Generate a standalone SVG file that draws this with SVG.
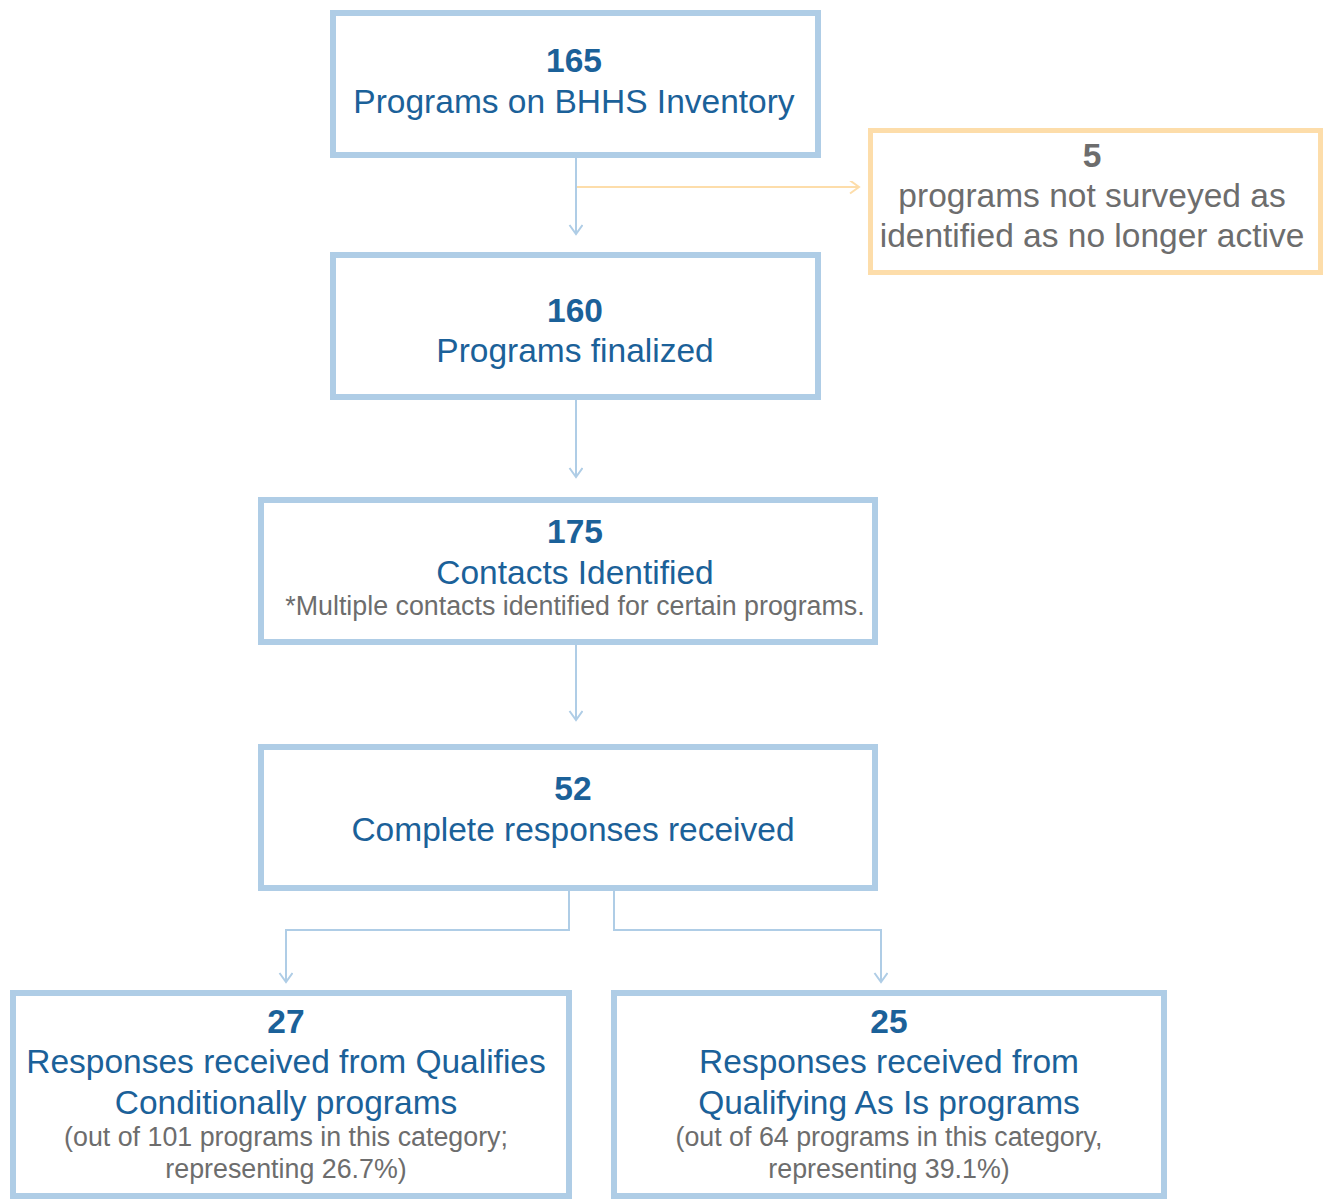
<svg xmlns="http://www.w3.org/2000/svg" width="1323" height="1201" viewBox="0 0 1323 1201">
<style>
.box{fill:#fff;stroke:#AFCDE6;stroke-width:6}
.obox{fill:#fff;stroke:#FDDDAA;stroke-width:5}
.t{font-family:"Liberation Sans",Arial,sans-serif;text-anchor:middle}
.num{font-weight:bold;font-size:33.5px;fill:#1B6199}
.lbl{font-size:33.5px;fill:#1B6199}
.gnum{font-weight:bold;font-size:33.5px;fill:#6D6D6D}
.glbl{font-size:33.5px;fill:#6D6D6D}
.sub{font-size:26.8px;fill:#6D6D6D}
.c{fill:none;stroke:#AFCDE6;stroke-width:2}
.co{fill:none;stroke:#FDDDAA;stroke-width:2}
</style>
<defs>
<marker id="ab" markerUnits="userSpaceOnUse" markerWidth="20" markerHeight="20" refX="10" refY="6.5" orient="auto">
<path d="M1,0 L10,6.5 L1,13" fill="none" stroke="#AFCDE6" stroke-width="2"/>
</marker>
<marker id="ao" markerUnits="userSpaceOnUse" markerWidth="20" markerHeight="20" refX="10" refY="6.5" orient="auto">
<path d="M1,0 L10,6.5 L1,13" fill="none" stroke="#FDDDAA" stroke-width="2"/>
</marker>
</defs>
<g id="connectors">
<path class="c" d="M576,158 V234" marker-end="url(#ab)"/>
<path class="co" d="M577,187 H859" marker-end="url(#ao)"/>
<path class="c" d="M576,400 V477" marker-end="url(#ab)"/>
<path class="c" d="M576,645 V720" marker-end="url(#ab)"/>
<path class="c" d="M569,891 V930 H286 V982" marker-end="url(#ab)"/>
<path class="c" d="M614,891 V930 H881 V982" marker-end="url(#ab)"/>
</g>
<g id="node-inventory">
<rect class="box" x="333" y="13" width="485" height="142"/>
<text class="t num" x="574" y="72">165</text>
<text class="t lbl" x="574" y="113">Programs on BHHS Inventory</text>
</g>
<g id="node-not-surveyed">
<rect class="obox" x="870.5" y="130.5" width="450" height="142"/>
<text class="t gnum" x="1092" y="167">5</text>
<text class="t glbl" x="1092" y="207">programs not surveyed as</text>
<text class="t glbl" x="1092" y="247">identified as no longer active</text>
</g>
<g id="node-finalized">
<rect class="box" x="333" y="255" width="485" height="142"/>
<text class="t num" x="575" y="322">160</text>
<text class="t lbl" x="575" y="362">Programs finalized</text>
</g>
<g id="node-contacts">
<rect class="box" x="261" y="500" width="614" height="142"/>
<text class="t num" x="575" y="543">175</text>
<text class="t lbl" x="575" y="584">Contacts Identified</text>
<text class="t sub" x="575" y="615">*Multiple contacts identified for certain programs.</text>
</g>
<g id="node-complete">
<rect class="box" x="261" y="747" width="614" height="141"/>
<text class="t num" x="573" y="800">52</text>
<text class="t lbl" x="573" y="841">Complete responses received</text>
</g>
<g id="node-conditional">
<rect class="box" x="13" y="993" width="556" height="203"/>
<text class="t num" x="286" y="1033">27</text>
<text class="t lbl" x="286" y="1073">Responses received from Qualifies</text>
<text class="t lbl" x="286" y="1114">Conditionally programs</text>
<text class="t sub" x="286" y="1146">(out of 101 programs in this category;</text>
<text class="t sub" x="286" y="1178">representing 26.7%)</text>
</g>
<g id="node-asis">
<rect class="box" x="614" y="993" width="550" height="203"/>
<text class="t num" x="889" y="1033">25</text>
<text class="t lbl" x="889" y="1073">Responses received from</text>
<text class="t lbl" x="889" y="1114">Qualifying As Is programs</text>
<text class="t sub" x="889" y="1146">(out of 64 programs in this category,</text>
<text class="t sub" x="889" y="1178">representing 39.1%)</text>
</g>
</svg>
